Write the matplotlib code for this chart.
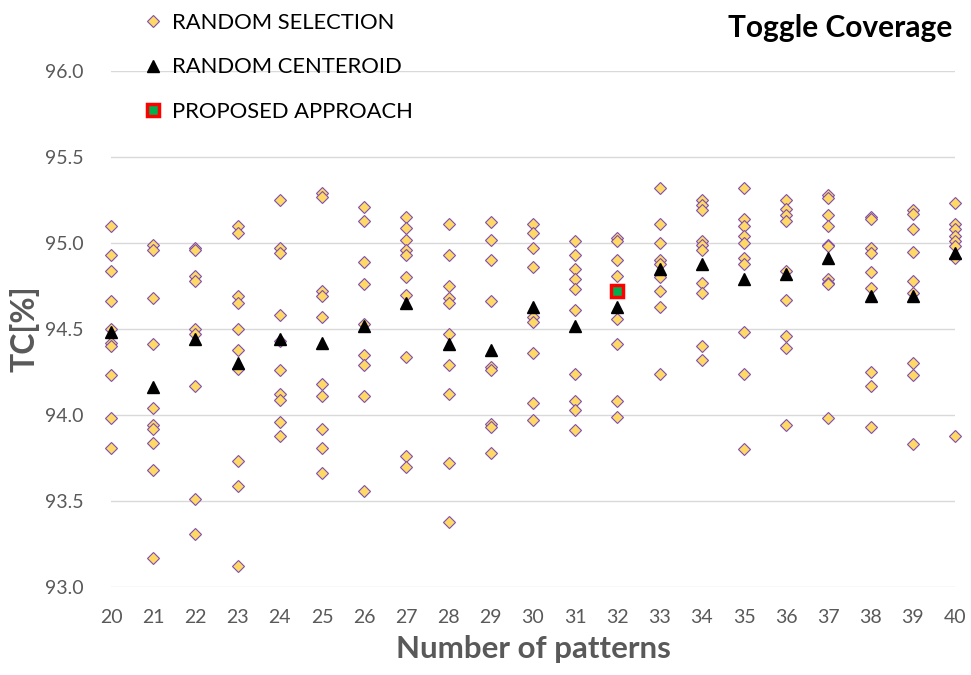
import matplotlib
matplotlib.use("Agg")
import matplotlib.pyplot as plt
from matplotlib.lines import Line2D

plt.rcParams['font.family'] = ['Lato', 'DejaVu Sans']

patterns = list(range(20, 41))

random_selection = {
    20: [95.10, 94.93, 94.84, 94.66, 94.50, 94.42, 94.40, 94.23, 93.98, 93.81],
    21: [94.99, 94.96, 94.68, 94.41, 94.04, 93.94, 93.92, 93.84, 93.68, 93.17],
    22: [94.97, 94.96, 94.81, 94.78, 94.50, 94.47, 94.17, 93.51, 93.31],
    23: [95.10, 95.06, 94.69, 94.65, 94.50, 94.38, 94.27, 93.73, 93.59, 93.12],
    24: [95.25, 94.97, 94.94, 94.58, 94.43, 94.26, 94.12, 94.09, 93.96, 93.88],
    25: [95.29, 95.27, 94.72, 94.69, 94.57, 94.18, 94.11, 93.92, 93.81, 93.66],
    26: [95.21, 95.13, 94.89, 94.76, 94.53, 94.35, 94.29, 94.11, 93.56],
    27: [95.15, 95.09, 95.02, 94.96, 94.93, 94.80, 94.70, 94.34, 93.76, 93.70],
    28: [95.11, 94.93, 94.75, 94.68, 94.65, 94.47, 94.29, 94.12, 93.72, 93.38],
    29: [95.12, 95.02, 94.90, 94.66, 94.28, 94.26, 93.95, 93.93, 93.78],
    30: [95.11, 95.06, 94.97, 94.86, 94.57, 94.54, 94.36, 94.07, 93.97],
    31: [95.01, 94.93, 94.85, 94.79, 94.73, 94.61, 94.24, 94.08, 94.03, 93.91],
    32: [95.03, 95.01, 94.90, 94.81, 94.56, 94.41, 94.08, 93.99],
    33: [95.32, 95.11, 95.00, 94.90, 94.88, 94.80, 94.72, 94.63, 94.24],
    34: [95.25, 95.22, 95.19, 95.01, 94.99, 94.96, 94.77, 94.71, 94.40, 94.32],
    35: [95.32, 95.14, 95.10, 95.04, 95.00, 94.91, 94.88, 94.48, 94.24, 93.80],
    36: [95.25, 95.20, 95.16, 95.13, 94.84, 94.67, 94.46, 94.39, 93.94],
    37: [95.28, 95.26, 95.16, 95.10, 94.99, 94.98, 94.79, 94.77, 94.76, 93.98],
    38: [95.15, 95.14, 94.97, 94.94, 94.83, 94.74, 94.25, 94.17, 93.93],
    39: [95.19, 95.17, 95.08, 94.95, 94.78, 94.71, 94.30, 94.23, 93.83],
    40: [95.23, 95.11, 95.08, 95.04, 95.01, 94.98, 94.91, 93.88],
}

random_centroid = [94.48, 94.16, 94.44, 94.30, 94.44, 94.42, 94.52, 94.65, 94.41, 94.38,
                   94.63, 94.52, 94.63, 94.85, 94.88, 94.79, 94.82, 94.91, 94.69, 94.69, 94.94]

proposed_x = [32]
proposed_y = [94.72]

yticks = [93.0, 93.5, 94.0, 94.5, 95.0, 95.5, 96.0]

fig = plt.figure(figsize=(9.71, 6.75), dpi=100)
ax = fig.add_axes([111/971, 1 - 587/675, (955 - 111)/971, (587 - 71)/675])

rs_x = []
rs_y = []
for p in patterns:
    for v in random_selection[p]:
        rs_x.append(p)
        rs_y.append(v)

ax.plot(rs_x, rs_y, linestyle='none', marker='D', markersize=6,
        markerfacecolor='#FFD966', markeredgecolor='#7F4FB0', markeredgewidth=0.8,
        clip_on=False, zorder=3)
ax.plot(patterns, random_centroid, linestyle='none', marker='^', markersize=9,
        markerfacecolor='black', markeredgecolor='black', clip_on=False, zorder=4)
ax.plot(proposed_x, proposed_y, linestyle='none', marker='s', markersize=9,
        markerfacecolor='#00B050', markeredgecolor='#FF0000', markeredgewidth=2.5,
        clip_on=False, zorder=5)

ax.set_xlim(20, 40)
ax.set_ylim(93.0, 96.0)
ax.set_xticks(patterns)
ax.set_xticklabels([str(p) for p in patterns])
ax.set_yticks(yticks)
ax.set_yticklabels([f"{t:.1f}" for t in yticks])
ax.grid(axis='y', color='#D9D9D9', linewidth=1.0, zorder=0)
ax.set_axisbelow(True)
for s in ax.spines.values():
    s.set_visible(False)
ax.tick_params(axis='both', length=0, labelsize=14, labelcolor='#595959')
ax.tick_params(axis='x', pad=16)
ax.tick_params(axis='y', pad=20)

ax.set_xlabel('Number of patterns', fontsize=22.5, fontweight='bold', color='#595959', labelpad=6)
ax.set_ylabel('TC[%]', fontsize=23, fontweight='bold', color='#595959', labelpad=4)

fig.text(0.981, 0.958, 'Toggle Coverage', fontsize=21.5, fontweight='bold', color='black',
         ha='right', va='center')

handles = [
    Line2D([], [], linestyle='none', marker='D', markersize=6, markerfacecolor='#FFD966',
           markeredgecolor='#7F4FB0', markeredgewidth=0.8),
    Line2D([], [], linestyle='none', marker='^', markersize=9, markerfacecolor='black',
           markeredgecolor='black'),
    Line2D([], [], linestyle='none', marker='s', markersize=9, markerfacecolor='#00B050',
           markeredgecolor='#FF0000', markeredgewidth=2.5),
]
labels = ['RANDOM SELECTION', 'RANDOM CENTEROID', 'PROPOSED APPROACH']
fig.legend(handles, labels, loc='upper left', bbox_to_anchor=(135/971, 1 - 4/675),
           frameon=False, fontsize=15.8, labelspacing=1.12, handlelength=0.8,
           handletextpad=0.5, borderaxespad=0)

fig.savefig('out.png', dpi=100)
